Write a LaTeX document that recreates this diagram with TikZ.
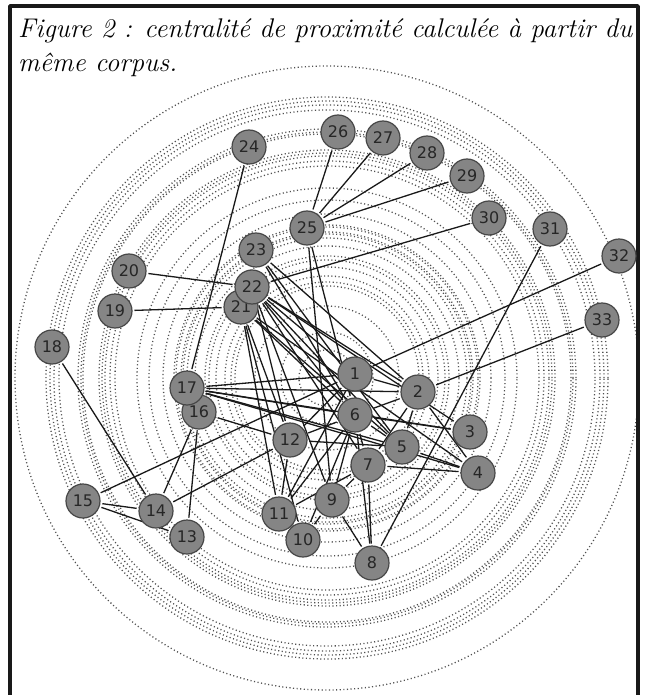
\documentclass[tikz,border=0pt]{standalone}
\usepackage{fontspec}
\usetikzlibrary{backgrounds}
\newfontfamily\labelfont{DejaVu Sans}
\definecolor{nodegray}{HTML}{858585}
\definecolor{rimgray}{HTML}{474747}
\definecolor{ringgray}{HTML}{505050}
\tikzset{
  every picture/.style={line join=round, line cap=round},
  vertex/.style={circle, fill=nodegray, draw=rimgray, line width=1.2pt,
    minimum size=34pt, inner sep=0pt, outer sep=2.5pt,
    font=\labelfont\fontsize{16}{16}\selectfont, text=black!85},
  tie/.style={line width=1.3pt, black!90},
  ring/.style={ringgray, line width=1.3pt, line cap=butt, dash pattern=on 1.1pt off 2.5pt},
  headline/.style={anchor=base west, inner sep=0pt,
    font=\fontsize{27}{32}\selectfont\itshape},
}

\begin{document}
\begin{tikzpicture}[x=1pt, y=-1pt]
    \useasboundingbox (0,0) rectangle (649,695);

    % Frame and caption
    \draw[line width=3.5pt, black!90, line cap=butt] (10,695) -- (10,6) -- (638,6) -- (638,695);
    \node[headline] (title1) at (18,38)
        {\makebox[614pt][s]{Figure 2 : centralité de proximité calculée à partir du}};
    \node[headline] (title2) at (18,72) {même corpus.};

    % Closeness rings
    \coordinate (hub) at (327,378);
    \begin{pgfonlayer}{background}
        \foreach \r in {28,46,72,92,96,102,111,118,122,132,140,144,146,151,153,
                        164,178,190,212,217,222,225,228,244,246,249,268,273,277,281,312}
            \draw[ring] (hub) circle (\r pt);
    \end{pgfonlayer}

    % Actors
    \foreach \n/\x/\y in {1/355/374, 2/418/392, 3/470/432, 4/478/473, 5/402/447,
                          6/355/415, 7/368/465, 8/372/563, 9/332/500, 10/303/540,
                          11/279/514, 12/290/440, 13/187/537, 14/156/511, 15/83/501,
                          16/199/412, 17/187/388, 18/52/347, 19/115/311, 20/129/271,
                          21/241/307, 22/252/287, 23/256/250, 24/249/147, 25/307/228,
                          26/338/132, 27/383/138, 28/427/153, 29/467/176, 30/489/218,
                          31/550/229, 32/619/256, 33/602/320}
        \node[vertex] (n\n) at (\x,\y) {\n};

    % Ties
    \begin{pgfonlayer}{background}
        \foreach \a/\b in {24/17, 20/22, 19/21, 18/14, 26/25, 27/25, 28/25, 29/25,
                           30/22, 32/1, 33/2, 31/8, 15/1, 15/14, 15/13, 14/12,
                           16/14, 16/13, 16/12, 12/11, 25/6, 25/9,
                           22/1, 22/2, 22/6, 22/5, 22/3, 22/7, 22/12, 22/9,
                           21/6, 21/5, 21/11, 21/10, 21/12, 21/4,
                           23/2, 23/6, 23/5,
                           17/1, 17/2, 17/6, 17/5, 17/3, 17/4,
                           12/6, 12/1, 12/5, 11/6, 11/1, 11/7, 10/6, 10/9,
                           9/6, 9/7, 8/7, 8/9, 8/6, 7/6, 7/2, 7/4,
                           5/2, 5/6, 5/4, 6/2, 6/3, 1/2, 2/4}
            \draw[tie] (n\a) -- (n\b);
    \end{pgfonlayer}
\end{tikzpicture}
\end{document}
